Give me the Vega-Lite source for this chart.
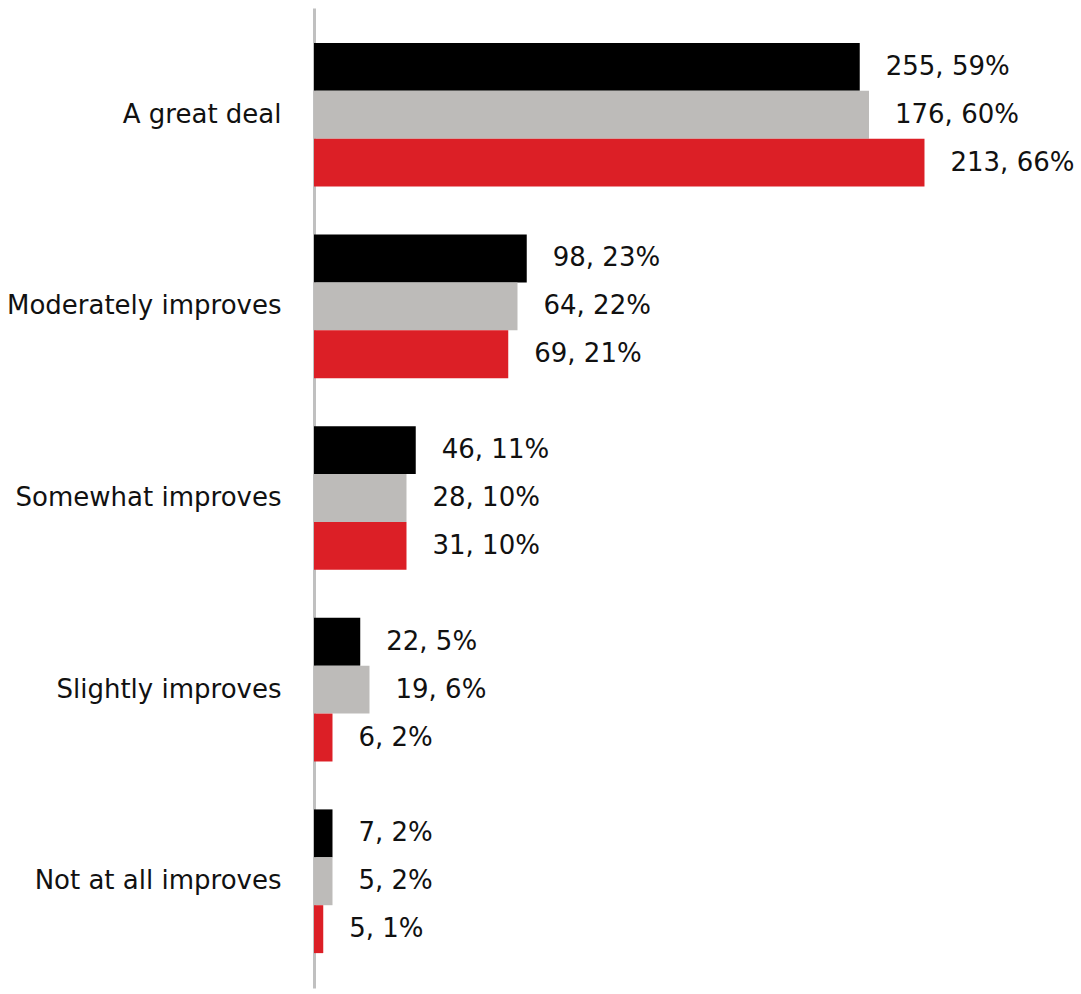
{
  "$schema": "https://vega.github.io/schema/vega-lite/v6.json",
  "width": 767,
  "height": 980,
  "autosize": {"type": "none"},
  "padding": {"left": 314, "top": 8, "right": 0, "bottom": 6},
  "background": "white",
  "config": {"view": {"stroke": null}},
  "data": {
    "values": [
      {"category": "A great deal", "group": "g1", "count": 255, "pct": 59},
      {"category": "A great deal", "group": "g2", "count": 176, "pct": 60},
      {"category": "A great deal", "group": "g3", "count": 213, "pct": 66},
      {"category": "Moderately improves", "group": "g1", "count": 98, "pct": 23},
      {"category": "Moderately improves", "group": "g2", "count": 64, "pct": 22},
      {"category": "Moderately improves", "group": "g3", "count": 69, "pct": 21},
      {"category": "Somewhat improves", "group": "g1", "count": 46, "pct": 11},
      {"category": "Somewhat improves", "group": "g2", "count": 28, "pct": 10},
      {"category": "Somewhat improves", "group": "g3", "count": 31, "pct": 10},
      {"category": "Slightly improves", "group": "g1", "count": 22, "pct": 5},
      {"category": "Slightly improves", "group": "g2", "count": 19, "pct": 6},
      {"category": "Slightly improves", "group": "g3", "count": 6, "pct": 2},
      {"category": "Not at all improves", "group": "g1", "count": 7, "pct": 2},
      {"category": "Not at all improves", "group": "g2", "count": 5, "pct": 2},
      {"category": "Not at all improves", "group": "g3", "count": 5, "pct": 1}
    ]
  },
  "transform": [
    {"calculate": "datum.count + ', ' + datum.pct + '%'", "as": "label"}
  ],
  "encoding": {
    "y": {
      "field": "category",
      "type": "nominal",
      "sort": ["A great deal", "Moderately improves", "Somewhat improves", "Slightly improves", "Not at all improves"],
      "scale": {"paddingInner": 0.25, "paddingOuter": 0.182},
      "axis": {
        "title": null,
        "ticks": false,
        "domainColor": "#c0c0c0",
        "domainWidth": 3,
        "labelFont": "DejaVu Sans",
        "labelFontSize": 26,
        "labelColor": "#111111",
        "labelPadding": 33,
        "labelLimit": 400
      }
    },
    "yOffset": {
      "field": "group",
      "type": "nominal",
      "sort": ["g1", "g2", "g3"],
      "scale": {"paddingInner": 0, "paddingOuter": 0}
    },
    "x": {
      "field": "pct",
      "type": "quantitative",
      "scale": {"domain": [0, 82.92], "nice": false, "zero": true},
      "axis": null
    }
  },
  "layer": [
    {
      "mark": {"type": "bar"},
      "encoding": {
        "color": {
          "field": "group",
          "type": "nominal",
          "scale": {"domain": ["g1", "g2", "g3"], "range": ["#000000", "#bdbbb9", "#dc1f26"]},
          "legend": null
        }
      }
    },
    {
      "mark": {"type": "text", "align": "left", "baseline": "middle", "dx": 26, "font": "DejaVu Sans", "fontSize": 26, "color": "#111111"},
      "encoding": {
        "text": {"field": "label", "type": "nominal"}
      }
    }
  ]
}
